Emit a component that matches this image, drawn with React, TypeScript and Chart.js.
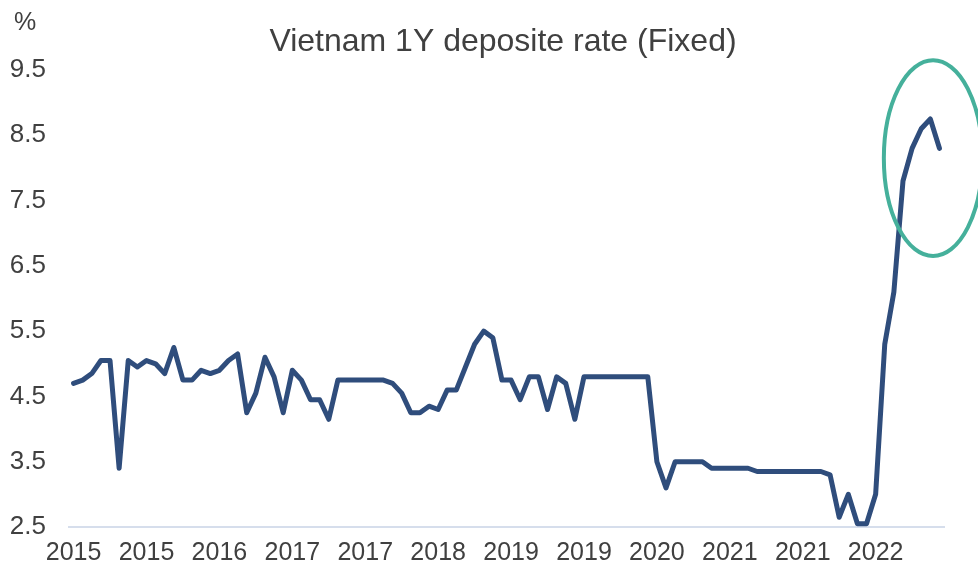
import React, { useEffect, useRef } from "react";
import { Chart, registerables } from "chart.js";

Chart.register(...registerables);

const TITLE = "Vietnam 1Y deposite rate (Fixed)";
const UNIT = "%";
const YEARS = ["2015", "2016", "2017", "2018", "2019", "2020", "2021", "2022"];
const MONTHS = ["Jan", "Feb", "Mar", "Apr", "May", "Jun", "Jul", "Aug", "Sep", "Oct", "Nov", "Dec"];
const CATEGORIES = YEARS.flatMap((y) => MONTHS.map((m) => `${m} ${y}`));
const LABEL_EVERY = 8;

const RATE = [
  4.7, 4.75, 4.85, 5.05, 5.05, 3.4, 5.05, 4.95, 5.05, 5.0, 4.85, 5.25,
  4.75, 4.75, 4.9, 4.85, 4.9, 5.05, 5.15, 4.25, 4.55, 5.1, 4.8, 4.25,
  4.9, 4.75, 4.45, 4.45, 4.15, 4.75, 4.75, 4.75, 4.75, 4.75, 4.75, 4.7,
  4.55, 4.25, 4.25, 4.35, 4.3, 4.6, 4.6, 4.95, 5.3, 5.5, 5.4, 4.75,
  4.75, 4.45, 4.8, 4.8, 4.3, 4.8, 4.7, 4.15, 4.8, 4.8, 4.8, 4.8,
  4.8, 4.8, 4.8, 4.8, 3.5, 3.1, 3.5, 3.5, 3.5, 3.5, 3.4, 3.4,
  3.4, 3.4, 3.4, 3.35, 3.35, 3.35, 3.35, 3.35, 3.35, 3.35, 3.35, 3.3,
  2.65, 3.0, 2.55, 2.55, 3.0, 5.3, 6.1, 7.8, 8.3, 8.6, 8.75, 8.3,
];

// highlight ellipse (in data units: centre index/value, radii)
const HIGHLIGHT = { index: 94.3, value: 8.15, rIndex: 5.4, rValue: 1.5 };

const FONT = "'Liberation Sans', Arial, sans-serif";
const TEXT_COLOR = "#404040";

export default function App() {
  const ref = useRef<HTMLCanvasElement | null>(null);

  useEffect(() => {
    if (!ref.current) return;
    const overlay = {
      id: "overlay",
      afterDatasetsDraw(chart: any) {
        const { ctx, scales } = chart;
        const x = scales.x;
        const y = scales.y;
        const cx = x.getPixelForValue(HIGHLIGHT.index);
        const cy = y.getPixelForValue(HIGHLIGHT.value);
        const rx = Math.abs(x.getPixelForValue(HIGHLIGHT.index + HIGHLIGHT.rIndex) - cx);
        const ry = Math.abs(y.getPixelForValue(HIGHLIGHT.value + HIGHLIGHT.rValue) - cy);
        ctx.save();
        ctx.beginPath();
        ctx.ellipse(cx, cy, rx, ry, 0, 0, Math.PI * 2);
        ctx.strokeStyle = "#45B09B";
        ctx.lineWidth = 4;
        ctx.stroke();
        ctx.restore();
      },
      afterDraw(chart: any) {
        const { ctx } = chart;
        ctx.save();
        ctx.fillStyle = TEXT_COLOR;
        ctx.textBaseline = "middle";
        ctx.textAlign = "center";
        ctx.font = `25px ${FONT}`;
        ctx.fillText(UNIT, 25, 23);
        ctx.font = `32px ${FONT}`;
        ctx.fillText(TITLE, 503, 42);
        ctx.restore();
      },
    };

    const chart = new Chart(ref.current, {
      type: "line",
      data: {
        labels: CATEGORIES,
        datasets: [
          {
            data: RATE,
            borderColor: "#2F4D7C",
            borderWidth: 5,
            pointRadius: 0,
            tension: 0,
            borderJoinStyle: "round",
            borderCapStyle: "round",
            fill: false,
          },
        ],
      },
      options: {
        animation: false,
        responsive: true,
        maintainAspectRatio: false,
        layout: { padding: { top: 70, left: 0, right: 34, bottom: 0 } },
        plugins: { legend: { display: false }, tooltip: { enabled: false }, title: { display: false } },
        scales: {
          x: {
            type: "category",
            offset: true,
            grid: { display: false, drawTicks: false },
            border: { display: true, color: "#D6DEEC", width: 2 },
            afterFit: (s: any) => {
              s.height = 47;
            },
            ticks: {
              autoSkip: false,
              maxRotation: 0,
              padding: 11,
              color: TEXT_COLOR,
              font: { size: 25, family: FONT },
              callback: (_v: any, i: number) =>
                i % LABEL_EVERY === 0 ? CATEGORIES[i].split(" ")[1] : null,
            },
          },
          y: {
            min: 2.5,
            max: 9.5,
            grid: { display: false, drawTicks: false },
            border: { display: false },
            afterFit: (s: any) => {
              s.width = 69;
            },
            ticks: {
              stepSize: 1,
              padding: 23,
              color: TEXT_COLOR,
              font: { size: 26, family: FONT },
              callback: (v: any) => Number(v).toFixed(1),
            },
          },
        },
      },
      plugins: [overlay],
    });
    return () => chart.destroy();
  }, []);

  return (
    <div style={{ position: "fixed", left: 0, top: 0, width: 978, height: 574, background: "#fff" }}>
      <canvas ref={ref} />
    </div>
  );
}
